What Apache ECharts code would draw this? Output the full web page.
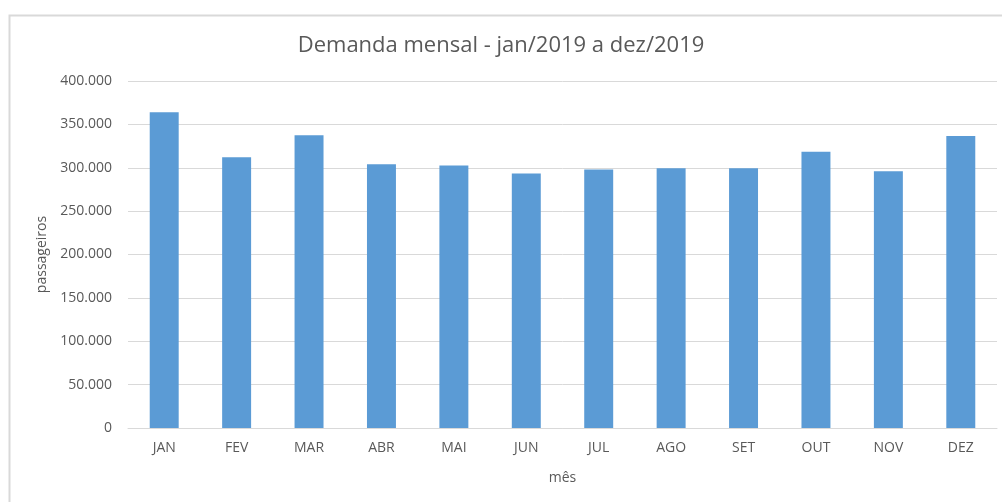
<!DOCTYPE html>
<html>
<head>
<meta charset="utf-8">
<script src="https://cdn.jsdelivr.net/npm/echarts@6/dist/echarts.min.js"></script>
<style>
  html, body { margin: 0; padding: 0; background: #fff; }
  #chart { width: 1002px; height: 502px; }
</style>
</head>
<body>
<div id="chart"></div>
<script>
// Monthly passenger demand, 2019
const months = ['JAN', 'FEV', 'MAR', 'ABR', 'MAI', 'JUN', 'JUL', 'AGO', 'SET', 'OUT', 'NOV', 'DEZ'];
const passengers = [364000, 312000, 337500, 304000, 302500, 293500, 298000, 299500, 299500, 318500, 296000, 336500];
const titleText = 'Demanda mensal - jan/2019 a dez/2019';
const yName = 'passageiros';
const xName = 'mês';

const FONT = "'Open Sans', sans-serif";

function fmt(v) {
  return String(v).replace(/\B(?=(\d{3})+(?!\d))/g, '.');
}

const chart = echarts.init(document.getElementById('chart'), null, { renderer: 'canvas' });
chart.setOption({
  animation: false,
  backgroundColor: '#ffffff',
  graphic: [{
    type: 'rect',
    left: 7, top: 13,
    shape: { width: 1100, height: 600 },
    style: { fill: 'none', stroke: '#d9d9d9', lineWidth: 2 },
    silent: true
  }],
  title: {
    text: titleText,
    left: 'center',
    top: 30,
    textStyle: { fontFamily: FONT, fontSize: 22, fontWeight: 'normal', color: '#595959' }
  },
  grid: { left: 128, right: 5, top: 81, bottom: 74 },
  xAxis: {
    type: 'category',
    data: months,
    name: xName,
    nameLocation: 'middle',
    nameGap: 43,
    nameTextStyle: { fontFamily: FONT, fontSize: 14, color: '#595959' },
    axisLine: { lineStyle: { color: '#d9d9d9', width: 1 } },
    axisTick: { show: false },
    axisLabel: { fontFamily: FONT, fontSize: 14, color: '#595959', margin: 13 }
  },
  yAxis: {
    type: 'value',
    min: 0, max: 400000, interval: 50000,
    name: yName,
    nameLocation: 'middle',
    nameGap: 78,
    nameTextStyle: { fontFamily: FONT, fontSize: 14, color: '#595959' },
    axisLine: { show: false },
    axisTick: { show: false },
    splitLine: { lineStyle: { color: '#d9d9d9', width: 1 } },
    axisLabel: { fontFamily: FONT, fontSize: 14, color: '#595959', margin: 16, formatter: fmt }
  },
  series: [{
    type: 'bar',
    data: passengers,
    barWidth: '40%',
    itemStyle: { color: '#5b9bd5' }
  }]
});
</script>
</body>
</html>
